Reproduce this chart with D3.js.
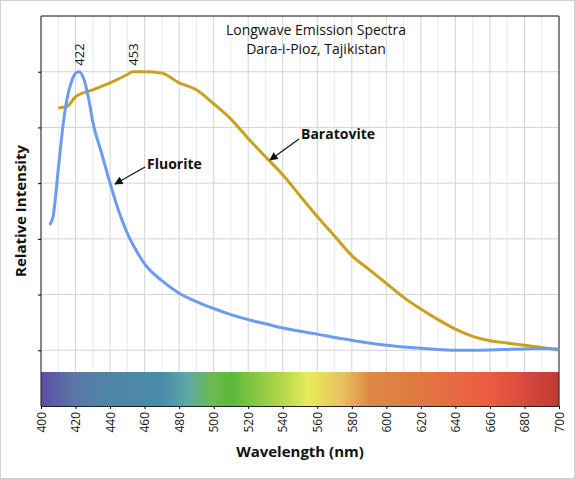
<!DOCTYPE html>
<html><head><meta charset="utf-8">
<script src="https://cdn.jsdelivr.net/npm/d3@7"></script>
<style>body{margin:0;background:#fff;font-family:"Open Sans",sans-serif}</style>
</head><body><div id="chart"></div>
<script>
var fluoriteNm = [405,407,410,413,415,418,420,422,425,428,430,435,440,445,450,455,460,470,480,490,500,510,520,530,540,550,560,570,580,590,600,610,620,630,640,650,660,670,680,690,700];
var fluoriteVal = [0.45,0.48,0.65,0.82,0.9,0.97,0.995,1.0,0.97,0.89,0.82,0.71,0.6,0.5,0.42,0.36,0.31,0.25,0.205,0.175,0.15,0.128,0.11,0.095,0.08,0.068,0.058,0.046,0.036,0.026,0.018,0.012,0.007,0.003,0.0,0.0,0.001,0.003,0.005,0.006,0.005];
var baratoviteNm = [410,415,420,430,440,450,453,460,470,480,490,500,510,520,530,540,550,560,570,580,590,600,610,620,630,640,650,660,670,680,690,700];
var baratoviteVal = [0.87,0.875,0.91,0.935,0.96,0.99,1.0,1.0,0.995,0.96,0.935,0.885,0.83,0.76,0.695,0.63,0.555,0.48,0.41,0.34,0.29,0.24,0.19,0.148,0.11,0.076,0.05,0.034,0.026,0.018,0.01,0.0];
var xTicks = d3.range(400, 701, 20);
var yTicks = [0, 0.2, 0.4, 0.6, 0.8, 1.0];
var spectrumNm = [400,420,440,470,485,500,510,540,555,575,590,620,660,700];
var spectrumCol = ["#5a4fa3","#5b78a8","#4e86a8","#4a8aa9","#5fa8a6","#6dbb4b","#5cb83a","#b5d84a","#e8ec58","#e8c060","#dd8a45","#e07840","#ee5a44","#c03a35"];

var W = 575, H = 479;
var FONT = "'Open Sans',sans-serif";
var svg = d3.select("#chart").append("svg").attr("width", W).attr("height", H).attr("font-family", FONT);
svg.append("rect").attr("x",0.5).attr("y",0.5).attr("width",W-1).attr("height",H-1).attr("fill","#fff").attr("stroke","#d0d0d0");

var x = d3.scaleLinear().domain([400,700]).range([41,559]);
var y = d3.scaleLinear().domain([-0.2,1.2]).range([406,16]);

// gridlines
svg.selectAll(".vg").data(d3.range(400,701,10)).enter().append("line")
  .attr("x1",d=>x(d)).attr("x2",d=>x(d)).attr("y1",16).attr("y2",406)
  .attr("stroke",d=>d%20===0?"#d4d4d4":"#ececec").attr("stroke-width",1);
svg.selectAll(".hg").data(yTicks.concat([1.2])).enter().append("line")
  .attr("x1",41).attr("x2",559).attr("y1",d=>y(d)).attr("y2",d=>y(d))
  .attr("stroke","#d4d4d4");

// spectrum band
var defs = svg.append("defs");
var grad = defs.append("linearGradient").attr("id","spec");
spectrumNm.forEach(function(n,i){
  grad.append("stop").attr("offset",((n-400)/300*100)+"%").attr("stop-color",spectrumCol[i]);
});
svg.append("rect").attr("x",x(400)).attr("y",372).attr("width",x(700)-x(400)).attr("height",406-372).attr("fill","url(#spec)");

// frame
svg.append("line").attr("x1",41).attr("x2",559).attr("y1",16).attr("y2",16).attr("stroke","#222");
svg.append("line").attr("x1",41).attr("x2",41).attr("y1",16).attr("y2",406).attr("stroke","#222");
svg.append("line").attr("x1",559).attr("x2",559).attr("y1",16).attr("y2",406).attr("stroke","#222");

// y ticks (no labels)
svg.append("g").attr("transform","translate(41,0)")
  .call(d3.axisLeft(y).tickValues(yTicks).tickSize(3).tickFormat(""))
  .call(g=>g.select(".domain").remove());

// x axis
var xa = svg.append("g").attr("transform","translate(0,406)")
  .call(d3.axisBottom(x).tickValues(xTicks).tickSize(3));
xa.select(".domain").attr("stroke","#222");
xa.selectAll("text").attr("transform","rotate(-90)").attr("x",-6).attr("y",0).attr("dy","0.35em")
  .style("text-anchor","end").attr("font-size","12px").attr("font-family",FONT).attr("fill","#111");

// lines
var line = d3.line().x(d=>x(d[0])).y(d=>y(d[1])).curve(d3.curveMonotoneX);
svg.append("path").datum(baratoviteNm.map((n,i)=>[n,baratoviteVal[i]]))
  .attr("d",line).attr("fill","none").attr("stroke","#c9a020").attr("stroke-width",3);
svg.append("path").datum(fluoriteNm.map((n,i)=>[n,fluoriteVal[i]]))
  .attr("d",line).attr("fill","none").attr("stroke","#6b9cf0").attr("stroke-width",3);

// peak labels
[[422,"422"],[453,"453"]].forEach(function(p){
  svg.append("text").attr("transform","translate("+(x(p[0])+5)+","+(y(1.0)-6)+") rotate(-90)")
    .attr("font-size","13px").attr("fill","#111").text(p[1]);
});

// titles
svg.append("text").attr("x",316).attr("y",35).attr("text-anchor","middle").attr("font-size","14px").attr("fill","#111").text("Longwave Emission Spectra");
svg.append("text").attr("x",316).attr("y",54).attr("text-anchor","middle").attr("font-size","14px").attr("fill","#111").text("Dara-i-Pioz, Tajikistan");

// annotations
defs.append("marker").attr("id","arr").attr("viewBox","0 0 10 10").attr("refX",9).attr("refY",5)
  .attr("markerWidth",7).attr("markerHeight",7).attr("orient","auto")
  .append("path").attr("d","M0,0L10,5L0,10z").attr("fill","#111");
svg.append("text").attr("x",147).attr("y",169).attr("font-size","14px").attr("font-weight","bold").attr("fill","#111").text("Fluorite");
svg.append("line").attr("x1",145).attr("y1",167).attr("x2",115).attr("y2",184).attr("stroke","#111").attr("stroke-width",1.2).attr("marker-end","url(#arr)");
svg.append("text").attr("x",301).attr("y",139).attr("font-size","14px").attr("font-weight","bold").attr("fill","#111").text("Baratovite");
svg.append("line").attr("x1",299).attr("y1",139).attr("x2",270).attr("y2",160).attr("stroke","#111").attr("stroke-width",1.2).attr("marker-end","url(#arr)");

// axis titles
svg.append("text").attr("x",300).attr("y",457).attr("text-anchor","middle").attr("font-size","15px").attr("font-weight","bold").attr("fill","#111").text("Wavelength (nm)");
svg.append("text").attr("transform","translate(26,211) rotate(-90)").attr("text-anchor","middle").attr("font-size","15px").attr("font-weight","bold").attr("fill","#111").text("Relative Intensity");
</script></body></html>
